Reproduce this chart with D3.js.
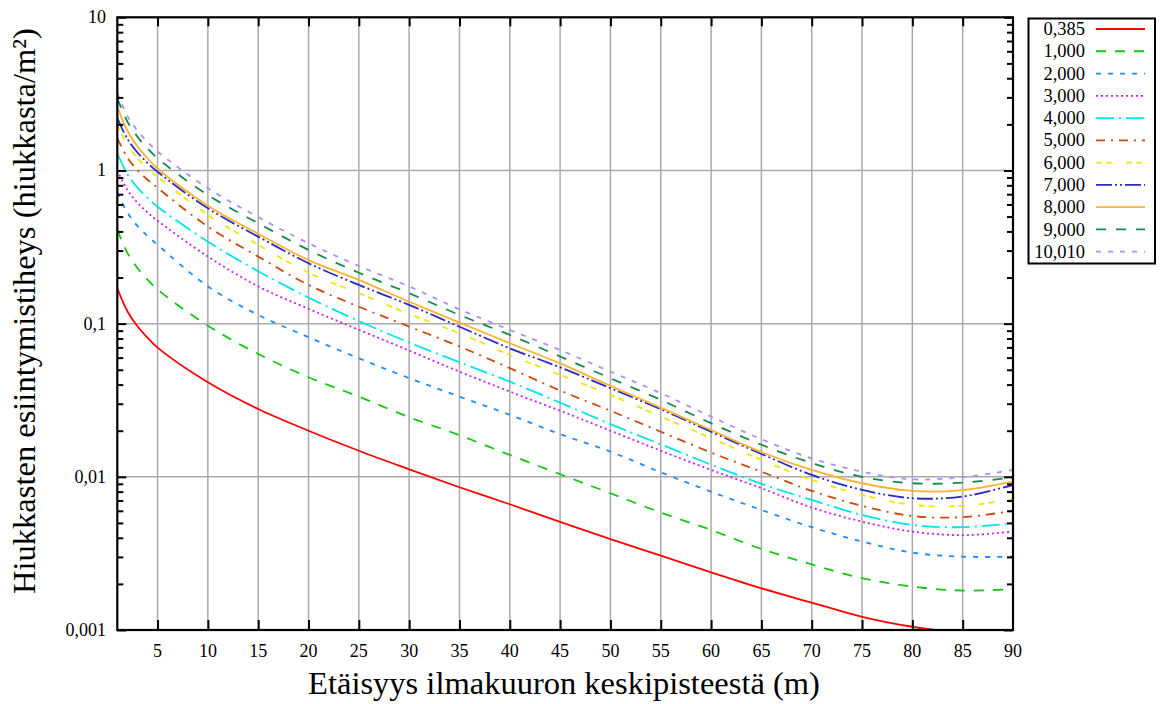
<!DOCTYPE html>
<html>
<head>
<meta charset="utf-8">
<script src="https://cdn.jsdelivr.net/npm/d3@7"></script>
<style>
  html, body { margin: 0; padding: 0; background: #fff; }
  svg { display: block; font-family: "Liberation Serif", "Times New Roman", serif; }
</style>
</head>
<body>
<svg id="chart" width="1162" height="704"></svg>
<script>
// Distance from the shower centre (m)
const distances = [1, 2, 3, 4, 5, 10, 15, 20, 25, 30, 35, 40, 45, 50, 55, 60, 65, 70, 75, 80, 85, 90];

// Particle density (particles/m²) for each energy level
const s0385 = [0.170, 0.1205, 0.0962, 0.081, 0.0697, 0.0414, 0.0277, 0.0200, 0.0148, 0.0112, 0.00855, 0.00662, 0.00508, 0.00392, 0.00306, 0.00238, 0.00187, 0.00151, 0.00122, 0.00105, 0.00095, 0.00088];
const s1000 = [0.41, 0.29, 0.231, 0.194, 0.167, 0.097, 0.0634, 0.0447, 0.0334, 0.0245, 0.0187, 0.0139, 0.0104, 0.00781, 0.00584, 0.0045, 0.00338, 0.00268, 0.00218, 0.00192, 0.00181, 0.00185];
const s2000 = [0.72, 0.53, 0.435, 0.373, 0.327, 0.175, 0.114, 0.0815, 0.0594, 0.0441, 0.0334, 0.0254, 0.0190, 0.0146, 0.0107, 0.0080, 0.00608, 0.00469, 0.00378, 0.0032, 0.00301, 0.00301];
const s3000 = [1.0, 0.747, 0.617, 0.533, 0.47, 0.274, 0.175, 0.125, 0.0912, 0.0667, 0.0486, 0.036, 0.027, 0.020, 0.0148, 0.0111, 0.00843, 0.0063, 0.0051, 0.00439, 0.00416, 0.00439];
const s4000 = [1.29, 0.947, 0.773, 0.663, 0.58, 0.343, 0.22, 0.148, 0.104, 0.0752, 0.056, 0.0418, 0.0305, 0.0221, 0.0163, 0.012, 0.009, 0.00706, 0.00564, 0.00485, 0.00469, 0.00498];
const s5000 = [1.62, 1.215, 1.006, 0.872, 0.77, 0.43, 0.274, 0.179, 0.129, 0.0957, 0.0709, 0.0512, 0.0366, 0.0270, 0.0197, 0.0144, 0.0108, 0.0081, 0.00646, 0.00555, 0.00545, 0.00601];
const s6000 = [1.98, 1.466, 1.204, 1.036, 0.91, 0.513, 0.327, 0.215, 0.158, 0.1156, 0.0865, 0.0625, 0.0463, 0.0343, 0.0247, 0.0179, 0.0129, 0.00955, 0.00762, 0.00656, 0.00646, 0.00715];
const s7000 = [2.2, 1.609, 1.311, 1.122, 0.98, 0.566, 0.37, 0.248, 0.179, 0.1325, 0.0955, 0.069, 0.0519, 0.0379, 0.0276, 0.0197, 0.0141, 0.0103, 0.00822, 0.00725, 0.00743, 0.00885];
const s8000 = [2.6, 1.817, 1.437, 1.202, 1.03, 0.589, 0.386, 0.26, 0.193, 0.139, 0.1016, 0.0745, 0.055, 0.0392, 0.0283, 0.0202, 0.0145, 0.0111, 0.00908, 0.00809, 0.0082, 0.0093];
const s9000 = [2.96, 2.087, 1.661, 1.395, 1.2, 0.692, 0.452, 0.303, 0.215, 0.158, 0.114, 0.0844, 0.061, 0.044, 0.0318, 0.0224, 0.0162, 0.0123, 0.0100, 0.00908, 0.00916, 0.00993];
const s10010 = [3.19, 2.274, 1.823, 1.539, 1.33, 0.766, 0.496, 0.335, 0.238, 0.175, 0.124, 0.091, 0.0673, 0.0486, 0.0352, 0.0247, 0.0176, 0.0132, 0.0108, 0.00964, 0.00993, 0.0111];

const seriesNames = ["0,385", "1,000", "2,000", "3,000", "4,000", "5,000", "6,000", "7,000", "8,000", "9,000", "10,010"];
const seriesValues = [s0385, s1000, s2000, s3000, s4000, s5000, s6000, s7000, s8000, s9000, s10010];

const xTickValues = [5, 10, 15, 20, 25, 30, 35, 40, 45, 50, 55, 60, 65, 70, 75, 80, 85, 90];
const yTickValues = [10, 1, 0.1, 0.01, 0.001];
const yTickLabels = ["10", "1", "0,1", "0,01", "0,001"];

const xTitle = "Etäisyys ilmakuuron keskipisteestä (m)";
const yTitle = "Hiukkasten esiintymistiheys (hiukkasta/m²)";

// Line styles per series
const colors = ["#ff0000", "#14c814", "#1e8cff", "#c81eff", "#00e4ea", "#cc4a0a", "#e8e800", "#2a2ac4", "#ffb22c", "#168a4a", "#a890ff"];
const dashes = [null, "10,9", "5,7", "2,3", "18,5,2,5", "9,6,2,6", "6,4,6,14", "16,3,2,3,2,3", null, "10,10", "5,7"];

const svg = d3.select("#chart");
const L = 117.3, R = 1013, T = 17.3, B = 630;

const x = d3.scaleLinear().domain([1, 90]).range([L, R]);
const y = d3.scaleLog().domain([0.001, 10]).range([B, T]);

svg.append("defs").append("clipPath").attr("id", "plotclip")
  .append("rect").attr("x", L).attr("y", T).attr("width", R - L).attr("height", B - T);

// Grid
const grid = svg.append("g").attr("stroke", "#aaaaaa").attr("stroke-width", 1.5);
xTickValues.filter(v => v < 90).forEach(v => {
  grid.append("line").attr("x1", x(v)).attr("x2", x(v)).attr("y1", T).attr("y2", B);
});
yTickValues.filter(v => v > 0.001 && v < 10).forEach(v => {
  grid.append("line").attr("x1", L).attr("x2", R).attr("y1", y(v)).attr("y2", y(v));
});

// Curves
const line = d3.line()
  .x((d, i) => x(distances[i]))
  .y(d => y(d))
  .curve(d3.curveCatmullRom.alpha(0.5));

const curves = svg.append("g").attr("clip-path", "url(#plotclip)");
seriesValues.forEach((vals, i) => {
  curves.append("path")
    .attr("d", line(vals))
    .attr("fill", "none")
    .attr("stroke", colors[i])
    .attr("stroke-width", 1.8)
    .attr("stroke-dasharray", dashes[i]);
});

// Ticks: major on decades, minor on 2..9 multiples, on left and right
const minor = [];
for (let e = -3; e < 1; e++) for (let m = 2; m <= 9; m++) minor.push(m * Math.pow(10, e));

const axisLeft = d3.axisRight(y).tickValues(yTickValues).tickSize(9).tickFormat("");
const axisLeftMinor = d3.axisRight(y).tickValues(minor).tickSize(6).tickFormat("");
const axisRightMaj = d3.axisLeft(y).tickValues(yTickValues).tickSize(9).tickFormat("");
const axisRightMinor = d3.axisLeft(y).tickValues(minor).tickSize(6).tickFormat("");
const axisBottom = d3.axisTop(x).tickValues(xTickValues.filter(v => v < 90)).tickSize(10).tickFormat("");
const axisTop = d3.axisBottom(x).tickValues(xTickValues.filter(v => v < 90)).tickSize(9).tickFormat("");

function styleAxis(g) {
  g.select(".domain").remove();
  g.selectAll(".tick line").attr("stroke", "#000").attr("stroke-width", 2);
}
svg.append("g").attr("transform", `translate(${L},0)`).call(axisLeft).call(styleAxis);
svg.append("g").attr("transform", `translate(${L},0)`).call(axisLeftMinor).call(styleAxis);
svg.append("g").attr("transform", `translate(${R},0)`).call(axisRightMaj).call(styleAxis);
svg.append("g").attr("transform", `translate(${R},0)`).call(axisRightMinor).call(styleAxis);
svg.append("g").attr("transform", `translate(0,${B})`).call(axisBottom).call(styleAxis);
svg.append("g").attr("transform", `translate(0,${T})`).call(axisTop).call(styleAxis);

// Frame
svg.append("rect").attr("x", L).attr("y", T).attr("width", R - L).attr("height", B - T)
  .attr("fill", "none").attr("stroke", "#000").attr("stroke-width", 2.2);

// Tick labels
svg.append("g").selectAll("text").data(xTickValues).join("text")
  .attr("x", d => x(d)).attr("y", 657)
  .attr("text-anchor", "middle").attr("font-size", 18).attr("fill", "#000")
  .text(d => d);

svg.append("g").selectAll("text").data(yTickValues).join("text")
  .attr("x", 106).attr("y", d => y(d)).attr("dy", "0.33em")
  .attr("text-anchor", "end").attr("font-size", 18).attr("fill", "#000")
  .text((d, i) => yTickLabels[i]);

// Axis titles
svg.append("text").attr("x", 564).attr("y", 694).attr("text-anchor", "middle")
  .attr("font-size", 32.5).attr("fill", "#000").text(xTitle);
svg.append("text").attr("transform", "translate(35,311) rotate(-90)").attr("text-anchor", "middle")
  .attr("font-size", 32.5).attr("fill", "#000").text(yTitle);

// Legend
const lg = svg.append("g");
lg.append("rect").attr("x", 1028.5).attr("y", 18.5).attr("width", 126.5).attr("height", 245)
  .attr("fill", "#fff").attr("stroke", "#000").attr("stroke-width", 2);
seriesNames.forEach((name, i) => {
  const ly = 29 + i * 22.27;
  lg.append("text").attr("x", 1085).attr("y", ly).attr("dy", "0.33em")
    .attr("text-anchor", "end").attr("font-size", 18.5).attr("fill", "#000").text(name);
  lg.append("line").attr("x1", 1096).attr("x2", 1145).attr("y1", ly).attr("y2", ly)
    .attr("stroke", colors[i]).attr("stroke-width", 1.8).attr("stroke-dasharray", dashes[i]);
});
</script>
</body>
</html>
